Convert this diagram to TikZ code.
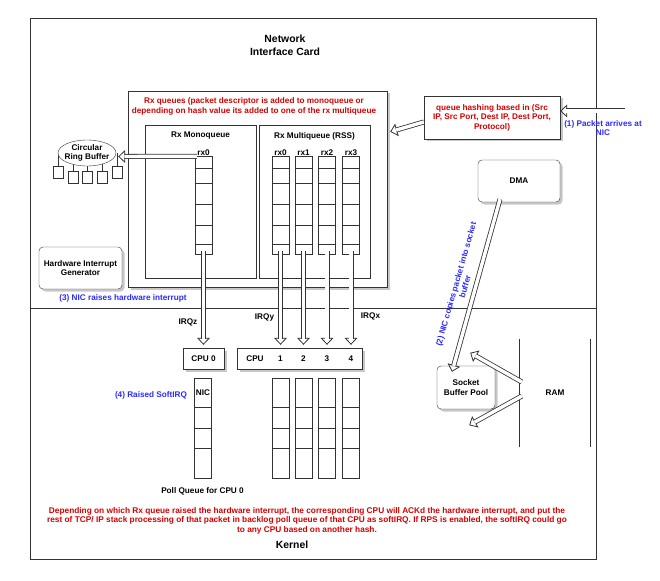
\documentclass[tikz,border=0pt]{standalone}
\usepackage{fontspec}
\setmainfont{Liberation Sans}
\usepackage{tikz}
\usetikzlibrary{positioning, arrows.meta, shapes.geometric, shadows, backgrounds, calc}
\definecolor{nicred}{HTML}{D40000}
\definecolor{nicblue}{HTML}{2A2AFF}
\definecolor{edge}{HTML}{333333}
\tikzset{
  box/.style={draw=edge, fill=white, align=center, inner sep=1pt},
  shbox/.style={box, drop shadow={shadow xshift=2.5pt, shadow yshift=-2.5pt, fill=black!22, opacity=1}},
  rbox/.style={shbox, rounded corners=4pt},
  qcol/.style={draw=edge, fill=white, minimum width=17pt, minimum height=98pt, inner sep=0pt},
  pcol/.style={qcol, minimum height=100pt},
  slot/.style={draw=edge, fill=white, minimum width=10pt, minimum height=12pt, inner sep=0pt},
  lbl/.style={inner sep=0.5pt, align=center},
  redtxt/.style={lbl, text=nicred},
  bluetxt/.style={lbl, text=nicblue},
  bigtxt/.style={lbl, font=\bfseries\fontsize{10.4}{12.5}\selectfont},
  hshaft/.style={draw=edge, line width=0.8pt, double=white, double distance=3.4pt},
  hhead/.style={draw=edge, line width=0.8pt, -{Triangle[open, length=7pt, width=13pt]}},
}
% hollow block arrow: head first, then the double shaft over its base
\newcommand{\hollowar}[3][0pt]{%
  \draw[hhead, shorten >=#1] ($#3!12pt!#2$) -- #3;
  \draw[hshaft, shorten >=6.2pt+#1] #2 -- #3;}

\begin{document}
\begin{tikzpicture}[x=1pt, y=-1pt, font=\bfseries\fontsize{8.2}{9.5}\selectfont]
  \useasboundingbox (0,0) rectangle (660,580);
  % NIC on top, kernel below
  \node[draw=edge, line width=0.8pt, minimum width=566pt, minimum height=290pt, inner sep=0pt] (nic) at (313,163) {};
  \node[draw=edge, line width=0.8pt, minimum width=566pt, minimum height=251pt, inner sep=0pt] (kernel) at (313,433.5) {};
  \node[bigtxt] (nictitle) at (285,45.5) {Network\\Interface Card};
  \node[bigtxt] (kerneltitle) at (292,545) {Kernel};

  % rx queues
  \node[shbox, minimum width=259pt, minimum height=196pt] (rxq) at (257.5,189) {};
  \node[redtxt] (rxqtxt) at (254,106.5) {Rx queues (packet descriptor is added to monoqueue or\\depending on hash value its added to one of the rx multiqueue};
  \node[box, minimum width=111pt, minimum height=153pt] (mono) at (200.5,201.5) {};
  \node[box, minimum width=111pt, minimum height=153pt] (multi) at (314.5,201.5) {};
  \node[lbl] (monotxt) at (200.5,136) {Rx Monoqueue};
  \node[lbl] (multitxt) at (314.5,136) {Rx Multiqueue (RSS)};

  \node[qcol] (m0) at (203.5,205) {};
  \foreach \n/\x in {mq0/280.5, mq1/303.5, mq2/327, mq3/351}
    \node[qcol] (\n) at (\x,205) {};
  \foreach \c in {m0, mq0, mq1, mq2, mq3}
    \foreach \y in {168,183,204,225,244}
      \draw[edge] (\c.west |- 0,\y) -- (\c.east |- 0,\y);
  \node[lbl, above=0pt of m0] {rx0};
  \foreach \n/\t in {mq0/rx0, mq1/rx1, mq2/rx2, mq3/rx3}
    \node[lbl, above=0pt of \n] {\t};

  % ring buffer
  \node[draw=edge, fill=white, ellipse, minimum width=58pt, minimum height=26pt, inner sep=0pt,
        label={[lbl]center:{Circular\\Ring Buffer}}] (ring) at (87,153) {};
  \foreach \n/\x/\y in {s1/58/172, s2/73/177.5, s3/87/177.5, s4/102/177.5, s5/117/172}
    \node[slot] (\n) at (\x,\y) {};
  \begin{scope}[on background layer]
    \foreach \n in {s1,s2,s3,s4,s5}
      \draw[edge] (\n.north) -- (\n.north |- ring.center);
  \end{scope}

  \node[rbox, minimum width=83pt, minimum height=42pt] (hwi) at (80.5,268) {Hardware Interrupt\\Generator};
  \node[bluetxt] (raisehw) at (123,298) {(3) NIC raises hardware interrupt};

  % hashing, DMA, RAM
  \node[shbox, text=nicred, minimum width=136pt, minimum height=43pt] (hash) at (492,117.5) {queue hashing based in (Src\\IP, Src Port, Dest IP, Dest Port,\\Protocol)};
  \coordinate (pkt) at (625,111);
  \node[bluetxt] (arrives) at (603,128) {(1) Packet arrives at\\NIC};
  \node[rbox, minimum width=82pt, minimum height=42pt] (dma) at (519,181) {DMA};
  \node[rbox, minimum width=58pt, minimum height=43pt] (sbp) at (466,387.5) {Socket\\Buffer Pool};
  \node[lbl, minimum width=70pt, minimum height=108pt] (ram) at (555,393) {RAM};
  \draw[edge, line width=0.8pt] (ram.north west) -- (ram.south west) (ram.north east) -- (ram.south east);
  \node[bluetxt, rotate=74] (copytxt) at (460.5,285.5) {(2) NIC copies packet into socket\\buffer};

  % cpus
  \node[shbox, minimum width=41pt, minimum height=21pt] (cpu0) at (203.5,358.5) {CPU 0};
  \node[shbox, minimum width=125pt, minimum height=21pt] (cpus) at (299.5,358.5) {};
  \node[lbl] (cputxt) at (255,358.5) {CPU};
  \foreach \n/\t in {mq0/1, mq1/2, mq2/3, mq3/4}
    \node[lbl] at (\n |- cpus) {\t};
  \node[lbl] (irqz) at (188,322) {IRQz};
  \node[lbl] (irqy) at (264.5,317) {IRQy};
  \node[lbl] (irqx) at (370.5,316) {IRQx};

  % poll queues
  \node[pcol] (nicq) at (203,428) {};
  \foreach \n/\x in {pq0/280.5, pq1/303.5, pq2/327, pq3/351}
    \node[pcol] (\n) at (\x,428) {};
  \foreach \c in {nicq, pq0, pq1, pq2, pq3}
    \foreach \y in {407,428,448}
      \draw[edge] (\c.west |- 0,\y) -- (\c.east |- 0,\y);
  \node[lbl] at (nicq.center |- 0,393) {NIC};
  \node[bluetxt] (softirq) at (151,395) {(4) Raised SoftIRQ};
  \node[lbl] (polltxt) at (202.5,491) {Poll Queue for CPU 0};
  \node[redtxt, font=\bfseries\fontsize{8.3}{9.5}\selectfont] (note) at (307,520.5) {Depending on which Rx queue raised the hardware interrupt, the corresponding CPU will ACKd the hardware interrupt, and put the\\rest of TCP/ IP stack processing of that packet in backlog poll queue of that CPU as softIRQ. If RPS is enabled, the softIRQ could go\\to any CPU based on another hash.};

  % arrows
  \hollowar{(pkt)}{([yshift=6.5pt]hash.east)}
  \hollowar{([yshift=-4.5pt]hash.west)}{([xshift=3pt,yshift=-41pt]rxq.north east)}
  \hollowar{([xshift=2pt,yshift=-0.5pt]m0.north west)}{([xshift=2pt,yshift=-3.5pt]ring.east)}
  \hollowar[3pt]{([yshift=3pt]m0.south)}{(cpu0.north)}
  \foreach \n in {mq0, mq1, mq2, mq3}{
    \hollowar[3pt]{([yshift=3pt]\n.south)}{(\n.south |- cpus.north)}
  }
  \hollowar{([xshift=-19pt,yshift=3pt]dma.south)}{([xshift=-14pt,yshift=-6pt]sbp.north)}
  \hollowar{([xshift=2pt,yshift=11pt]ram.west)}{([xshift=-25pt,yshift=13pt]sbp.north east)}
  \hollowar{([xshift=2pt,yshift=-3pt]ram.west)}{([xshift=-26pt,yshift=-16pt]sbp.south east)}
\end{tikzpicture}
\end{document}
